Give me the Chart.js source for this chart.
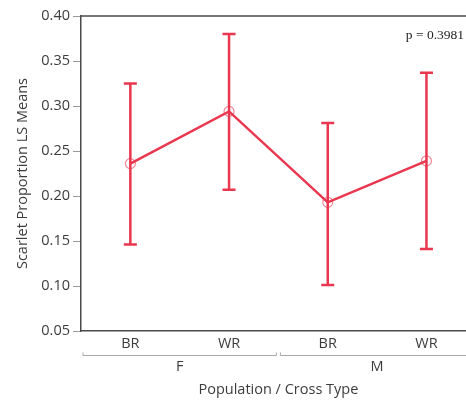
<!DOCTYPE html>
<html>
<head>
<meta charset="utf-8">
<script src="https://cdn.jsdelivr.net/npm/chart.js@4/dist/chart.umd.min.js"></script>
<style>
html,body{margin:0;padding:0;overflow:hidden;background:#fff;}
canvas{display:block;}
</style>
</head>
<body>
<canvas id="c" width="482" height="404" style="width:482px;height:404px"></canvas>
<script>
const categories = ["BR", "WR", "BR", "WR"];
const groups = ["F", "F", "M", "M"];
const means = [0.236, 0.294, 0.193, 0.239];
const upper = [0.325, 0.380, 0.281, 0.337];
const lower = [0.146, 0.207, 0.101, 0.141];
const yTicks = [0.05, 0.10, 0.15, 0.20, 0.25, 0.30, 0.35, 0.40];
const pText = "p = 0.3981";

const RED = "#E8374F";
const FONT = "'Open Sans', 'Noto Sans', sans-serif";
const FS = 14.5;

const overlay = {
  id: "overlay",
  beforeDatasetsDraw(chart) {
    const ctx = chart.ctx;
    const x = chart.scales.x, y = chart.scales.y;
    ctx.save();
    ctx.strokeStyle = RED;
    ctx.lineWidth = 2.5;
    for (let i = 0; i < means.length; i++) {
      const px = x.getPixelForValue(i);
      const pt = y.getPixelForValue(upper[i]);
      const pb = y.getPixelForValue(lower[i]);
      ctx.beginPath();
      ctx.moveTo(px, pt); ctx.lineTo(px, pb);
      ctx.moveTo(px - 6.5, pt); ctx.lineTo(px + 6.5, pt);
      ctx.moveTo(px - 6.5, pb); ctx.lineTo(px + 6.5, pb);
      ctx.stroke();
    }
    ctx.restore();
  },
  afterDraw(chart) {
    const ctx = chart.ctx;
    const x = chart.scales.x;
    const a = chart.chartArea;
    ctx.save();
    ctx.strokeStyle = "#4a4a4a";
    ctx.lineWidth = 1.5;
    ctx.beginPath();
    ctx.moveTo(a.left, a.top); ctx.lineTo(a.right, a.top);
    ctx.stroke();
    const uniq = [];
    groups.forEach((g, i) => {
      if (!uniq.length || uniq[uniq.length - 1].g !== g) uniq.push({g, s: i, e: i});
      else uniq[uniq.length - 1].e = i;
    });
    const step = x.getPixelForValue(1) - x.getPixelForValue(0);
    const by = 355.5;
    ctx.strokeStyle = "#a8a8a8";
    ctx.lineWidth = 1;
    ctx.fillStyle = "#3c3c3c";
    ctx.font = FS + "px " + FONT;
    ctx.textAlign = "center";
    ctx.textBaseline = "middle";
    uniq.forEach(u => {
      const l = x.getPixelForValue(u.s) - step / 2 + 2;
      const r = x.getPixelForValue(u.e) + step / 2 - 2;
      ctx.beginPath();
      ctx.moveTo(l, by - 3); ctx.lineTo(l, by); ctx.lineTo(r, by); ctx.lineTo(r, by - 3);
      ctx.stroke();
      const cx = (x.getPixelForValue(u.s) + x.getPixelForValue(u.e)) / 2;
      ctx.fillText(u.g, cx, 367);
    });
    ctx.font = "13.5px 'Liberation Serif', 'DejaVu Serif', serif";
    ctx.fillStyle = "#222";
    ctx.textAlign = "right";
    ctx.fillText(pText, 464, 35);
    ctx.restore();
  }
};

new Chart(document.getElementById("c"), {
  type: "line",
  data: {
    labels: categories,
    datasets: [{
      data: means,
      borderColor: RED,
      borderWidth: 2.5,
      tension: 0,
      pointRadius: 5,
      pointBorderWidth: 1.2,
      pointBorderColor: "rgba(232,55,79,0.6)",
      pointBackgroundColor: "rgba(0,0,0,0)",
      fill: false
    }]
  },
  options: {
    responsive: false,
    maintainAspectRatio: false,
    animation: false,
    layout: { padding: { top: 16, right: 1, bottom: 0, left: 0 } },
    plugins: { legend: { display: false }, tooltip: { enabled: false } },
    scales: {
      x: {
        offset: true,
        grid: { display: false, drawTicks: false },
        border: { display: true, color: "#4a4a4a", width: 1.5 },
        ticks: { color: "#3c3c3c", font: { family: FONT, size: FS }, padding: 4 },
        title: { display: true, text: "Population / Cross Type", color: "#3c3c3c",
                 font: { family: FONT, size: FS }, padding: { top: 0, bottom: 5 } },
        afterFit(s) { s.height = 73; }
      },
      y: {
        min: 0.05, max: 0.40,
        afterBuildTicks(s) { s.ticks = yTicks.map(v => ({ value: v })); },
        grid: { drawOnChartArea: false, drawTicks: true, tickLength: 8, color: "#9a9a9a" },
        border: { display: true, color: "#4a4a4a", width: 1.5 },
        ticks: { color: "#3c3c3c", font: { family: FONT, size: FS }, padding: 3,
                 callback: v => v.toFixed(2) },
        title: { display: true, text: "Scarlet Proportion LS Means", color: "#3c3c3c",
                 font: { family: FONT, size: FS }, padding: { top: 14, bottom: 0 } },
        afterFit(s) { s.width = 81; }
      }
    }
  },
  plugins: [overlay]
});
</script>
</body>
</html>
